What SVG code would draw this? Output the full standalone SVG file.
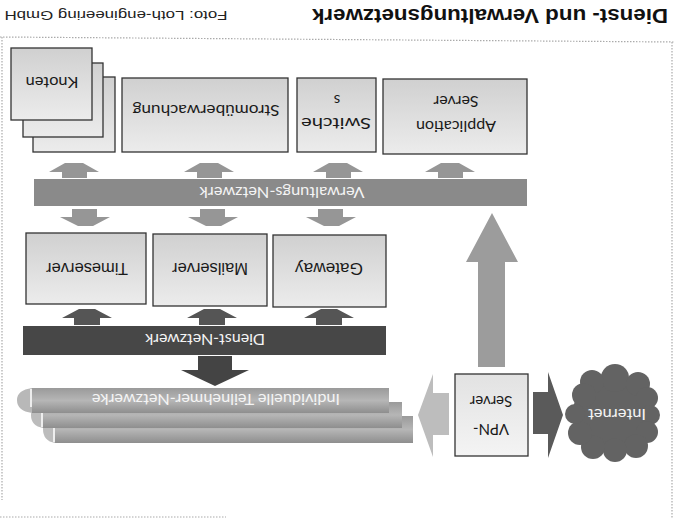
<svg xmlns="http://www.w3.org/2000/svg" width="674" height="519" viewBox="0 0 674 519">
<defs>
<linearGradient id="boxg" x1="0" y1="0" x2="0" y2="1">
<stop offset="0" stop-color="#d0d0d0"/><stop offset="1" stop-color="#ececec"/>
</linearGradient>
<linearGradient id="tng" x1="0" y1="0" x2="0" y2="1">
<stop offset="0" stop-color="#9a9a9a"/><stop offset="0.5" stop-color="#b6b6b6"/><stop offset="1" stop-color="#8e8e8e"/>
</linearGradient>
<linearGradient id="vpng" x1="0" y1="0" x2="0" y2="1">
<stop offset="0" stop-color="#e2e2e2"/><stop offset="1" stop-color="#f4f4f4"/>
</linearGradient>
</defs>
<style>
.box{fill:url(#boxg);stroke:#333;stroke-width:1.3}
.frame{stroke:#aaa;stroke-width:1.2;stroke-dasharray:1.5 1.5;fill:none}
.lbl{font-family:"Liberation Sans",Arial,sans-serif;font-size:16px;fill:#1a1a1a;text-anchor:middle;dominant-baseline:central}
.cal{font-family:Lato,"Open Sans","Liberation Sans",sans-serif;font-size:15px;fill:#1a1a1a;text-anchor:middle;dominant-baseline:central}
.wt{font-family:Lato,"Open Sans","Liberation Sans",sans-serif;font-size:15px;fill:#f4f4f4;text-anchor:middle;dominant-baseline:central}
.a-mid{fill:#969696}
.a-dark{fill:#555}
</style>

<!-- frame and heading -->
<g id="frame">
<line class="frame" x1="0" y1="37" x2="674" y2="42"/>
<line class="frame" x1="2" y1="37" x2="2" y2="500"/>
<line class="frame" x1="672" y1="42" x2="672" y2="519"/>
<line class="frame" x1="0" y1="517" x2="226" y2="517"/>
</g>
<g id="title">
<text x="490" y="16" transform="rotate(180 490 16)" font-family="'Liberation Sans',Arial,sans-serif" font-weight="bold" font-size="20" fill="#111" text-anchor="middle" dominant-baseline="central" textLength="356" lengthAdjust="spacingAndGlyphs">Dienst- und Verwaltungsnetzwerk</text>
<text x="116" y="15" transform="rotate(180 116 15)" font-family="'Liberation Sans',Arial,sans-serif" font-size="13" fill="#222" text-anchor="middle" dominant-baseline="central" textLength="223" lengthAdjust="spacingAndGlyphs">Foto: Loth-engineering GmbH</text>
</g>

<!-- top row -->
<g id="knoten">
<rect class="box" x="33" y="77" width="82" height="75"/>
<rect class="box" x="23" y="63" width="80" height="74"/>
<rect class="box" x="11" y="48" width="81" height="72"/>
<text class="cal" x="52" y="83" transform="rotate(180 52 83)" textLength="53" lengthAdjust="spacingAndGlyphs">Knoten</text>
</g>
<g id="stromueberwachung">
<rect class="box" x="122" y="78" width="166" height="74"/>
<text class="cal" x="206" y="111" transform="rotate(180 206 111)" textLength="147" lengthAdjust="spacingAndGlyphs">Stromüberwachung</text>
</g>
<g id="switches">
<rect class="box" x="297" y="78" width="79" height="74"/>
<text class="cal" x="336" y="124" transform="rotate(180 336 124)" textLength="70" lengthAdjust="spacingAndGlyphs">Switche</text>
<text class="cal" x="337" y="101" transform="rotate(180 337 101)">s</text>
</g>
<g id="application-server">
<rect class="box" x="383" y="79" width="144" height="75"/>
<text class="cal" x="456" y="127" transform="rotate(180 456 127)" textLength="80" lengthAdjust="spacingAndGlyphs">Application</text>
<text class="cal" x="456" y="102" transform="rotate(180 456 102)" textLength="45" lengthAdjust="spacingAndGlyphs">Server</text>
</g>

<!-- Verwaltungs-Netzwerk bar -->
<g id="verwaltungs-netzwerk">
<rect x="34" y="179" width="493" height="27" fill="#8a8a8a"/>
<text class="wt" x="282" y="193" transform="rotate(180 282 193)" textLength="165" lengthAdjust="spacingAndGlyphs">Verwaltungs-Netzwerk</text>
</g>

<!-- middle row -->
<g id="timeserver">
<rect class="box" x="26" y="233" width="120" height="71"/>
<text class="lbl" x="87" y="268" transform="rotate(180 87 268)" textLength="82" lengthAdjust="spacingAndGlyphs">Timeserver</text>
</g>
<g id="mailserver">
<rect class="box" x="153" y="234" width="114" height="72"/>
<text class="lbl" x="210" y="268" transform="rotate(180 210 268)" textLength="76" lengthAdjust="spacingAndGlyphs">Mailserver</text>
</g>
<g id="gateway">
<rect class="box" x="273" y="235" width="113" height="72"/>
<text class="lbl" x="329" y="268" transform="rotate(180 329 268)" textLength="68" lengthAdjust="spacingAndGlyphs">Gateway</text>
</g>

<!-- Dienst-Netzwerk bar -->
<g id="dienst-netzwerk">
<rect x="23" y="326" width="363" height="29" fill="#474747"/>
<text class="wt" x="205" y="340" transform="rotate(180 205 340)" textLength="120" lengthAdjust="spacingAndGlyphs">Dienst-Netzwerk</text>
</g>

<!-- Individuelle Teilnehmer-Netzwerke -->
<g id="teilnehmer-netzwerke">
<rect x="55" y="416" width="358" height="27" fill="url(#tng)"/>
<path d="M55 416 q-12 2 -12 13 q0 12 12 14 z" fill="#bcbcbc"/>
<line x1="54" y1="418" x2="54" y2="442" stroke="#fff" stroke-width="1.5"/>
<rect x="43" y="402" width="359" height="26" fill="url(#tng)"/>
<path d="M43 402 q-12 2 -12 13 q0 11 12 13 z" fill="#bcbcbc"/>
<line x1="42" y1="404" x2="42" y2="427" stroke="#fff" stroke-width="1.5"/>
<rect x="32" y="388" width="357" height="25" fill="url(#tng)"/>
<path d="M32 388 q-15 2 -15 12 q0 11 15 13 z" fill="#b8b8b8"/>
<line x1="31" y1="389" x2="31" y2="407" stroke="#fff" stroke-width="1.5"/>
<text class="wt" x="216" y="400" transform="rotate(180 216 400)" textLength="248" lengthAdjust="spacingAndGlyphs">Individuelle Teilnehmer-Netzwerke</text>
</g>

<!-- VPN Server -->
<g id="vpn-server">
<rect x="455" y="374" width="73" height="82" fill="url(#vpng)" stroke="#333" stroke-width="1.3"/>
<text class="cal" x="491" y="430" transform="rotate(180 491 430)">VPN-</text>
<text class="cal" x="491" y="402" transform="rotate(180 491 402)">Server</text>
</g>

<!-- Internet cloud -->
<g id="internet" fill="#636363">
<ellipse cx="611" cy="413" rx="38" ry="40"/>
<circle cx="615" cy="378" r="14"/>
<circle cx="592" cy="382" r="12"/>
<circle cx="584" cy="395" r="12"/>
<circle cx="638" cy="384" r="12"/>
<circle cx="647" cy="398" r="11"/>
<circle cx="650" cy="415" r="10"/>
<circle cx="647" cy="432" r="11"/>
<circle cx="636" cy="446" r="12"/>
<circle cx="615" cy="450" r="12"/>
<circle cx="593" cy="447" r="12"/>
<circle cx="580" cy="433" r="12"/>
<circle cx="575" cy="414" r="10"/>
<text class="wt" x="617" y="415" transform="rotate(180 617 415)" textLength="58" lengthAdjust="spacingAndGlyphs">Internet</text>
</g>

<!-- connectors -->
<g id="connectors">
<!-- up arrows above Verwaltungs-Netzwerk -->
<polygon class="a-mid" points="65,163 83,163 99,172 87,172 87,178 62,178 62,172 49,172"/>
<polygon class="a-mid" points="200,163 218,163 234,172 222,172 222,178 197,178 197,172 184,172"/>
<polygon class="a-mid" points="329,163 347,163 363,172 351,172 351,178 326,178 326,172 313,172"/>
<polygon class="a-mid" points="441,163 459,163 475,172 463,172 463,178 438,178 438,172 425,172"/>
<!-- down arrows below Verwaltungs-Netzwerk -->
<polygon class="a-mid" points="72,209 97,209 97,217 110,217 93,226 78,226 60,217 72,217"/>
<polygon class="a-mid" points="200,209 225,209 225,217 238,217 221,226 206,226 188,217 200,217"/>
<polygon class="a-mid" points="318,209 343,209 343,217 356,217 339,226 324,226 306,217 318,217"/>
<!-- up arrows from Dienst-Netzwerk -->
<polygon class="a-dark" points="79,309 95,309 112,318 100,318 100,325 74,325 74,318 62,318"/>
<polygon class="a-dark" points="204,309 220,309 237,318 225,318 225,325 199,325 199,318 187,318"/>
<polygon class="a-dark" points="321,309 337,309 354,318 342,318 342,325 316,325 316,318 304,318"/>
<!-- down arrow Dienst -> Teilnehmer -->
<polygon fill="#444" points="198,356 232,356 232,370 249,370 215,386 181,370 198,370"/>
<!-- VPN -> Verwaltungs-Netzwerk -->
<polygon fill="#9c9c9c" points="492,213 518,262 505,262 505,367 478,367 478,262 466,262"/>
<!-- VPN -> Teilnehmer (left) -->
<polygon fill="#bdbdbd" points="418,415 433,374 433,393 449,393 449,435 433,435 433,457"/>
<!-- VPN -> Internet (right) -->
<polygon fill="#5a5a5a" points="533,392 548,392 548,372 563,415 548,458 548,434 533,434"/>
</g>
</svg>
